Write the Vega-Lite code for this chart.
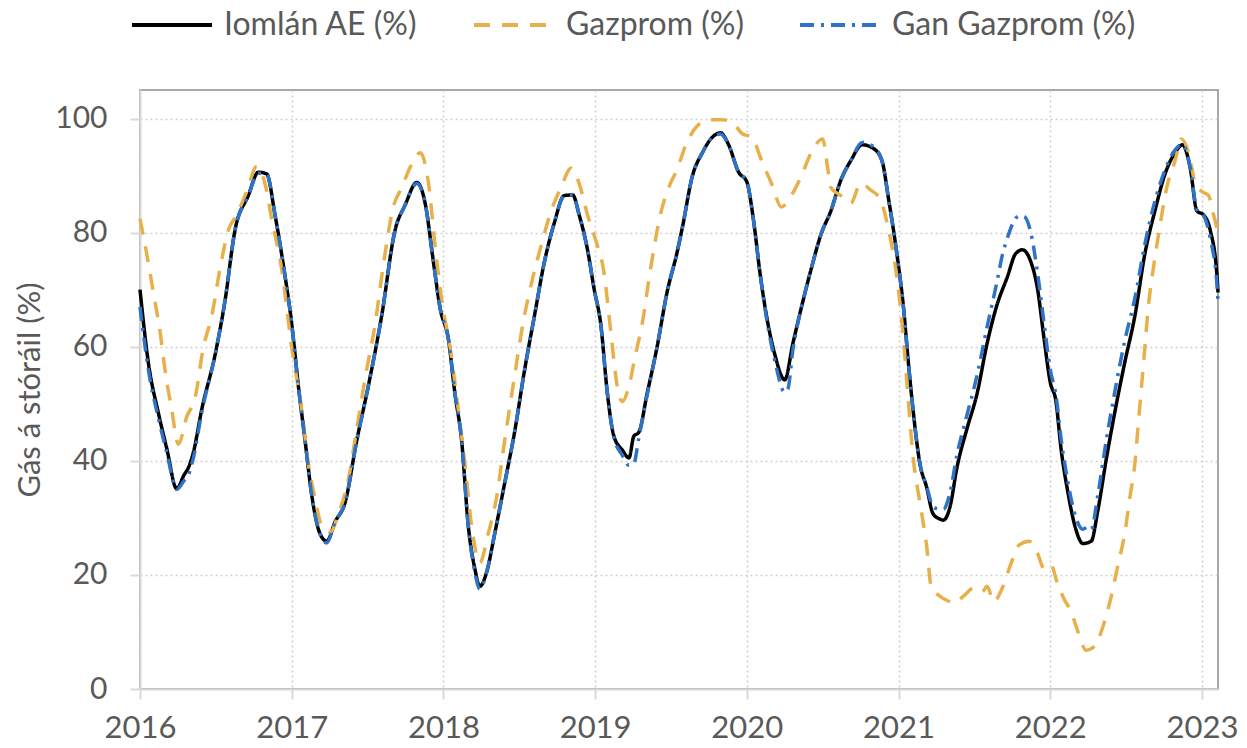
{
"$schema":"https://vega.github.io/schema/vega-lite/v6.json",
"width":1078,"height":599,
"autosize":{"type":"none"},
"padding":{"left":140,"top":90,"right":29,"bottom":59},
"background":"white",
"config":{"view":{"stroke":"#8c8c8c","strokeWidth":1.5},"font":"Lato"},
"datasets":{
"ae":[
{"year":2016.0,"value":70},{"year":2016.055,"value":57.2},{"year":2016.121,"value":48.4},{"year":2016.176,"value":42.2},{"year":2016.242,"value":35.1},{"year":2016.29,"value":37.5},{"year":2016.319,"value":38.8},{"year":2016.352,"value":41.5},{"year":2016.407,"value":49},{"year":2016.495,"value":58.6},{"year":2016.56,"value":68},{"year":2016.626,"value":80.4},{"year":2016.714,"value":86.5},{"year":2016.78,"value":90.6},{"year":2016.835,"value":90.3},{"year":2016.89,"value":83.1},{"year":2016.945,"value":74.3},{"year":2017.0,"value":64},{"year":2017.044,"value":53.1},{"year":2017.088,"value":43.6},{"year":2017.132,"value":34},{"year":2017.187,"value":27.2},{"year":2017.231,"value":25.9},{"year":2017.286,"value":29.3},{"year":2017.352,"value":32.7},{"year":2017.429,"value":43.6},{"year":2017.505,"value":53.1},{"year":2017.593,"value":65.4},{"year":2017.681,"value":80.4},{"year":2017.747,"value":84.8},{"year":2017.825,"value":88.8},{"year":2017.88,"value":85.1},{"year":2017.934,"value":74.9},{"year":2017.978,"value":66.8},{"year":2018.033,"value":61.3},{"year":2018.076,"value":51.8},{"year":2018.12,"value":43.6},{"year":2018.164,"value":28.6},{"year":2018.207,"value":21.1},{"year":2018.24,"value":18},{"year":2018.284,"value":20.4},{"year":2018.338,"value":27.2},{"year":2018.404,"value":36.1},{"year":2018.469,"value":45},{"year":2018.535,"value":55.9},{"year":2018.6,"value":65.4},{"year":2018.666,"value":74.9},{"year":2018.731,"value":81.7},{"year":2018.797,"value":86.5},{"year":2018.852,"value":86.6},{"year":2018.895,"value":83.1},{"year":2018.95,"value":77},{"year":2018.993,"value":70.2},{"year":2019.037,"value":64},{"year":2019.081,"value":51.8},{"year":2019.124,"value":44.3},{"year":2019.179,"value":41.9},{"year":2019.223,"value":40.5},{"year":2019.255,"value":44.3},{"year":2019.288,"value":45},{"year":2019.343,"value":51.8},{"year":2019.408,"value":59.9},{"year":2019.474,"value":69.5},{"year":2019.54,"value":76.5},{"year":2019.576,"value":81},{"year":2019.641,"value":89.9},{"year":2019.707,"value":94},{"year":2019.772,"value":96.7},{"year":2019.826,"value":97.5},{"year":2019.88,"value":95.4},{"year":2019.946,"value":90.6},{"year":2020.0,"value":88.9},{"year":2020.043,"value":82.4},{"year":2020.087,"value":72.9},{"year":2020.13,"value":65.4},{"year":2020.185,"value":58.6},{"year":2020.25,"value":54.2},{"year":2020.304,"value":60.6},{"year":2020.359,"value":66.8},{"year":2020.424,"value":73.6},{"year":2020.489,"value":79.7},{"year":2020.554,"value":83.8},{"year":2020.62,"value":89.2},{"year":2020.685,"value":92.6},{"year":2020.761,"value":95.4},{"year":2020.837,"value":94.7},{"year":2020.891,"value":92.6},{"year":2020.935,"value":85.8},{"year":2020.989,"value":76.3},{"year":2021.033,"value":66.8},{"year":2021.065,"value":57.2},{"year":2021.098,"value":48.4},{"year":2021.141,"value":39.5},{"year":2021.185,"value":35.4},{"year":2021.228,"value":30.7},{"year":2021.272,"value":29.8},{"year":2021.296,"value":29.6},{"year":2021.34,"value":32},{"year":2021.385,"value":38.8},{"year":2021.451,"value":45.6},{"year":2021.518,"value":51.8},{"year":2021.584,"value":60.6},{"year":2021.65,"value":67.4},{"year":2021.717,"value":72.2},{"year":2021.772,"value":76.3},{"year":2021.816,"value":77},{"year":2021.872,"value":74.9},{"year":2021.916,"value":70.2},{"year":2021.96,"value":61.3},{"year":2022.0,"value":53.8},{"year":2022.038,"value":50.4},{"year":2022.071,"value":42.2},{"year":2022.115,"value":34.7},{"year":2022.17,"value":27.9},{"year":2022.215,"value":25.5},{"year":2022.27,"value":25.9},{"year":2022.314,"value":31.3},{"year":2022.369,"value":40.2},{"year":2022.425,"value":48.4},{"year":2022.491,"value":57.2},{"year":2022.558,"value":65.4},{"year":2022.624,"value":76.3},{"year":2022.69,"value":83.8},{"year":2022.757,"value":90.3},{"year":2022.823,"value":94},{"year":2022.872,"value":95.4},{"year":2022.923,"value":91.3},{"year":2022.967,"value":83.8},{"year":2023.011,"value":83.1},{"year":2023.055,"value":80.4},{"year":2023.1,"value":72.2},{"year":2023.106,"value":69.5}
],
"gz":[
{"year":2016.0,"value":82.4},{"year":2016.044,"value":76.3},{"year":2016.088,"value":69.5},{"year":2016.132,"value":62.7},{"year":2016.165,"value":55.9},{"year":2016.209,"value":49},{"year":2016.253,"value":42.9},{"year":2016.308,"value":47.7},{"year":2016.363,"value":51.1},{"year":2016.418,"value":59.9},{"year":2016.473,"value":65.4},{"year":2016.527,"value":73.6},{"year":2016.582,"value":80.4},{"year":2016.637,"value":83.1},{"year":2016.703,"value":87.2},{"year":2016.769,"value":91.6},{"year":2016.824,"value":88.6},{"year":2016.868,"value":82.4},{"year":2016.934,"value":73.6},{"year":2017.0,"value":59.9},{"year":2017.066,"value":49},{"year":2017.11,"value":39.5},{"year":2017.154,"value":33.4},{"year":2017.198,"value":28.6},{"year":2017.253,"value":27.5},{"year":2017.308,"value":30.7},{"year":2017.374,"value":36.8},{"year":2017.429,"value":45.6},{"year":2017.484,"value":54.5},{"year":2017.55,"value":64},{"year":2017.604,"value":74.3},{"year":2017.67,"value":84.5},{"year":2017.725,"value":87.9},{"year":2017.791,"value":92},{"year":2017.847,"value":94},{"year":2017.902,"value":88.6},{"year":2017.945,"value":77.7},{"year":2017.989,"value":68.1},{"year":2018.044,"value":59.9},{"year":2018.098,"value":49},{"year":2018.142,"value":39.5},{"year":2018.186,"value":28.6},{"year":2018.24,"value":22.1},{"year":2018.295,"value":27.2},{"year":2018.349,"value":33.4},{"year":2018.404,"value":43.6},{"year":2018.459,"value":53.1},{"year":2018.524,"value":64},{"year":2018.59,"value":72.2},{"year":2018.644,"value":77.7},{"year":2018.71,"value":83.8},{"year":2018.775,"value":87.9},{"year":2018.841,"value":91.3},{"year":2018.895,"value":88.6},{"year":2018.95,"value":83.1},{"year":2019.0,"value":79},{"year":2019.059,"value":72.9},{"year":2019.103,"value":62.7},{"year":2019.146,"value":53.1},{"year":2019.179,"value":50.4},{"year":2019.223,"value":53.1},{"year":2019.266,"value":58.6},{"year":2019.31,"value":64},{"year":2019.365,"value":73.6},{"year":2019.43,"value":83.1},{"year":2019.496,"value":88.6},{"year":2019.54,"value":91},{"year":2019.598,"value":95.4},{"year":2019.663,"value":98.4},{"year":2019.75,"value":99.8},{"year":2019.837,"value":99.8},{"year":2019.913,"value":99.1},{"year":2019.967,"value":97.4},{"year":2020.033,"value":96.7},{"year":2020.098,"value":92.6},{"year":2020.163,"value":88.6},{"year":2020.228,"value":84.5},{"year":2020.293,"value":86.5},{"year":2020.359,"value":89.9},{"year":2020.424,"value":94},{"year":2020.5,"value":96.4},{"year":2020.533,"value":91.3},{"year":2020.554,"value":87.9},{"year":2020.62,"value":86.5},{"year":2020.685,"value":85.1},{"year":2020.75,"value":88.6},{"year":2020.815,"value":87.5},{"year":2020.88,"value":85.8},{"year":2020.935,"value":80.4},{"year":2020.989,"value":72.2},{"year":2021.033,"value":61.3},{"year":2021.065,"value":50.4},{"year":2021.098,"value":40.2},{"year":2021.141,"value":32.7},{"year":2021.185,"value":25.2},{"year":2021.217,"value":17.7},{"year":2021.272,"value":16.3},{"year":2021.337,"value":15.3},{"year":2021.363,"value":15},{"year":2021.429,"value":16.3},{"year":2021.496,"value":17.7},{"year":2021.551,"value":17},{"year":2021.584,"value":18},{"year":2021.628,"value":15.3},{"year":2021.684,"value":17.7},{"year":2021.739,"value":21.8},{"year":2021.794,"value":25.2},{"year":2021.861,"value":25.9},{"year":2021.916,"value":23.8},{"year":2021.96,"value":21.1},{"year":2022.004,"value":21.8},{"year":2022.049,"value":18.4},{"year":2022.093,"value":15.7},{"year":2022.137,"value":13.6},{"year":2022.181,"value":10.2},{"year":2022.237,"value":6.8},{"year":2022.292,"value":7.5},{"year":2022.347,"value":10.9},{"year":2022.403,"value":16.3},{"year":2022.447,"value":21.8},{"year":2022.491,"value":27.2},{"year":2022.524,"value":33.4},{"year":2022.558,"value":39.5},{"year":2022.58,"value":46.3},{"year":2022.602,"value":53.1},{"year":2022.624,"value":59.9},{"year":2022.646,"value":66.8},{"year":2022.679,"value":73.6},{"year":2022.723,"value":81.1},{"year":2022.768,"value":87.9},{"year":2022.823,"value":92.6},{"year":2022.863,"value":96.4},{"year":2022.912,"value":94},{"year":2022.956,"value":88.6},{"year":2023.0,"value":87.2},{"year":2023.044,"value":86.5},{"year":2023.077,"value":83.1},{"year":2023.106,"value":80}
],
"ngz":[
{"year":2016.0,"value":67},{"year":2016.055,"value":56},{"year":2016.121,"value":47.5},{"year":2016.176,"value":41.5},{"year":2016.242,"value":35},{"year":2016.29,"value":36.5},{"year":2016.319,"value":37.5},{"year":2016.352,"value":40.5},{"year":2016.407,"value":48.5},{"year":2016.495,"value":58.6},{"year":2016.56,"value":68},{"year":2016.626,"value":80.4},{"year":2016.714,"value":86.5},{"year":2016.78,"value":90.4},{"year":2016.835,"value":90.3},{"year":2016.89,"value":83.1},{"year":2016.945,"value":74.3},{"year":2017.0,"value":64},{"year":2017.044,"value":53.1},{"year":2017.088,"value":43.6},{"year":2017.132,"value":34},{"year":2017.187,"value":27.2},{"year":2017.231,"value":25.6},{"year":2017.286,"value":29.3},{"year":2017.352,"value":32.7},{"year":2017.429,"value":43.6},{"year":2017.505,"value":53.1},{"year":2017.593,"value":65.4},{"year":2017.681,"value":80.4},{"year":2017.747,"value":84.8},{"year":2017.825,"value":88.6},{"year":2017.88,"value":85.1},{"year":2017.934,"value":74.9},{"year":2017.978,"value":66.8},{"year":2018.033,"value":61.3},{"year":2018.076,"value":51.8},{"year":2018.12,"value":43.6},{"year":2018.164,"value":28.6},{"year":2018.207,"value":20.5},{"year":2018.24,"value":17.5},{"year":2018.284,"value":20.4},{"year":2018.338,"value":27.2},{"year":2018.404,"value":36.1},{"year":2018.469,"value":45},{"year":2018.535,"value":55.9},{"year":2018.6,"value":65.4},{"year":2018.666,"value":74.9},{"year":2018.731,"value":81.7},{"year":2018.797,"value":86.5},{"year":2018.852,"value":86.6},{"year":2018.895,"value":83.1},{"year":2018.95,"value":77},{"year":2018.993,"value":70.2},{"year":2019.037,"value":64},{"year":2019.081,"value":51.8},{"year":2019.124,"value":44},{"year":2019.179,"value":41},{"year":2019.223,"value":39.2},{"year":2019.255,"value":39.5},{"year":2019.288,"value":44},{"year":2019.343,"value":51.5},{"year":2019.408,"value":59.9},{"year":2019.474,"value":69.5},{"year":2019.54,"value":76.5},{"year":2019.576,"value":81},{"year":2019.641,"value":89.9},{"year":2019.707,"value":94},{"year":2019.772,"value":96.7},{"year":2019.826,"value":97.3},{"year":2019.88,"value":95.4},{"year":2019.946,"value":90.6},{"year":2020.0,"value":88.9},{"year":2020.043,"value":82.4},{"year":2020.087,"value":72.9},{"year":2020.13,"value":65},{"year":2020.185,"value":57.5},{"year":2020.25,"value":52},{"year":2020.27,"value":52.5},{"year":2020.304,"value":59.5},{"year":2020.359,"value":66.8},{"year":2020.424,"value":73.6},{"year":2020.489,"value":79.7},{"year":2020.554,"value":83.8},{"year":2020.62,"value":89.2},{"year":2020.685,"value":92.6},{"year":2020.761,"value":95.8},{"year":2020.837,"value":95},{"year":2020.891,"value":92.6},{"year":2020.935,"value":85.8},{"year":2020.989,"value":76.3},{"year":2021.033,"value":66.8},{"year":2021.065,"value":57.2},{"year":2021.098,"value":48.4},{"year":2021.141,"value":39.5},{"year":2021.185,"value":35.6},{"year":2021.228,"value":32},{"year":2021.272,"value":31.5},{"year":2021.296,"value":31.5},{"year":2021.34,"value":34.5},{"year":2021.385,"value":41},{"year":2021.451,"value":48},{"year":2021.518,"value":55},{"year":2021.584,"value":63.5},{"year":2021.65,"value":71.5},{"year":2021.684,"value":76},{"year":2021.717,"value":79},{"year":2021.772,"value":82.5},{"year":2021.8,"value":83},{"year":2021.83,"value":82.8},{"year":2021.872,"value":80},{"year":2021.916,"value":73},{"year":2021.96,"value":64},{"year":2022.0,"value":56},{"year":2022.038,"value":51.5},{"year":2022.071,"value":44},{"year":2022.115,"value":36.5},{"year":2022.17,"value":30},{"year":2022.215,"value":28},{"year":2022.25,"value":28.5},{"year":2022.27,"value":28},{"year":2022.314,"value":34},{"year":2022.369,"value":43.5},{"year":2022.425,"value":52},{"year":2022.491,"value":61},{"year":2022.558,"value":68.5},{"year":2022.624,"value":78},{"year":2022.69,"value":85.5},{"year":2022.757,"value":91},{"year":2022.823,"value":94.5},{"year":2022.872,"value":95.5},{"year":2022.923,"value":91.5},{"year":2022.967,"value":84},{"year":2023.011,"value":83},{"year":2023.055,"value":79},{"year":2023.1,"value":70.5},{"year":2023.106,"value":68}
]
},
"encoding":{
 "x":{"field":"year","type":"quantitative","scale":{"domain":[2016,2023.106],"nice":false,"zero":false},
  "axis":{"title":null,"values":[2016,2017,2018,2019,2020,2021,2022,2023],"format":"d","labelFont":"Lato","labelFontSize":31,"labelColor":"#595959","labelPadding":14,"tickSize":10,"tickColor":"#d9d9d9","tickWidth":2,"domainColor":"#d9d9d9","domainWidth":2,"grid":true,"gridColor":"#cfcfcf","gridDash":[2,3],"gridWidth":1.5,"labelFlush":false}},
 "y":{"field":"value","type":"quantitative","scale":{"domain":[0,105],"nice":false},
  "axis":{"title":"Gás á stóráil (%)","values":[0,20,40,60,80,100],"labelFont":"Lato","labelFontSize":30,"labelColor":"#595959","labelPadding":23,"tickSize":10,"tickColor":"#d9d9d9","tickWidth":2,"domainColor":"#d9d9d9","domainWidth":2,"grid":true,"gridColor":"#cfcfcf","gridDash":[2,3],"gridWidth":1.5,"titleFont":"Lato","titleFontSize":31,"titleFontWeight":"normal","titleColor":"#595959","titleX":-110,"titleY":299.5,"titleAngle":-90,"titleAlign":"center","titleBaseline":"middle"}}
},
"layer":[
{"data":{"name":"ae"},"mark":{"type":"line","strokeWidth":3.5,"interpolate":"monotone"},
 "encoding":{"color":{"datum":"Iomlán AE (%)"},"strokeDash":{"datum":"Iomlán AE (%)"}}},
{"data":{"name":"gz"},"mark":{"type":"line","strokeWidth":3.5,"interpolate":"monotone"},
 "encoding":{"color":{"datum":"Gazprom (%)"},"strokeDash":{"datum":"Gazprom (%)"}}},
{"data":{"name":"ngz"},"mark":{"type":"line","strokeWidth":3.5,"interpolate":"monotone"},
 "encoding":{
  "color":{"datum":"Gan Gazprom (%)","type":"nominal","scale":{"domain":["Iomlán AE (%)","Gazprom (%)","Gan Gazprom (%)"],"range":["#000000","#E8B04B","#2F73C6"]},
   "legend":{"title":null,"orient":"none","legendX":-10,"legendY":-107,"direction":"horizontal","columns":3,"symbolType":"stroke","symbolSize":6400,"symbolStrokeWidth":4,"labelFont":"Lato","labelFontSize":32,"labelColor":"#595959","labelOffset":10,"labelLimit":500,"columnPadding":48,"symbolOffset":0,"padding":0}},
  "strokeDash":{"datum":"Gan Gazprom (%)","type":"nominal","scale":{"domain":["Iomlán AE (%)","Gazprom (%)","Gan Gazprom (%)"],"range":[[1,0],[16,12],[14,7,3,7]]},"legend":null}}}
],
"resolve":{"scale":{"color":"shared","strokeDash":"shared"}}
}
